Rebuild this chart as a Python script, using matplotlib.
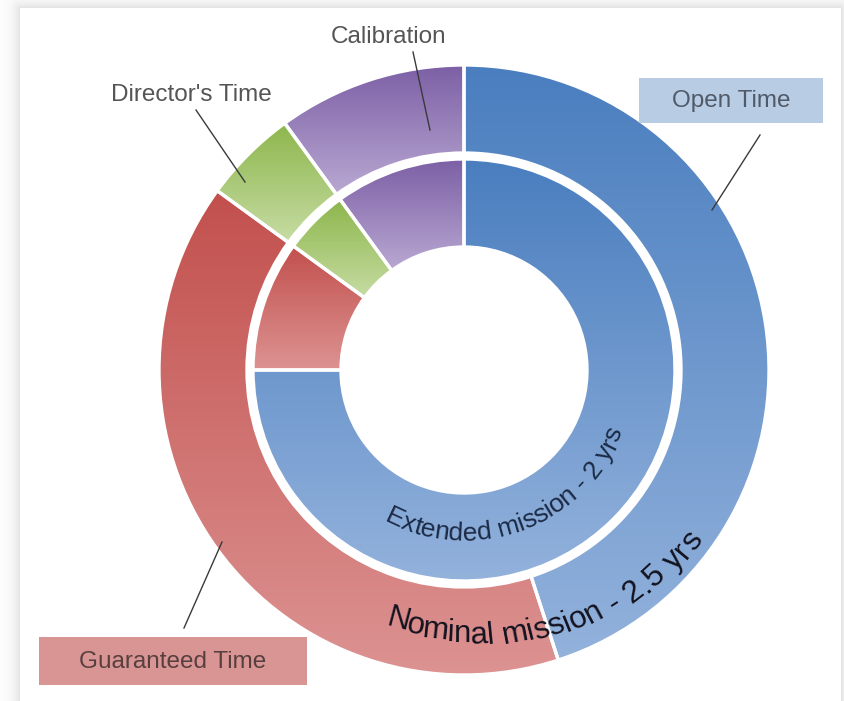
import numpy as np
import matplotlib
matplotlib.use("Agg")
import matplotlib.pyplot as plt
from matplotlib.patches import Rectangle
from matplotlib.font_manager import FontProperties
from matplotlib.textpath import TextToPath
from matplotlib.colors import LinearSegmentedColormap

# ---- data -------------------------------------------------------------
categories = ["Open Time", "Guaranteed Time", "Director's Time", "Calibration"]
nominal_share = [45, 40, 5, 10]    # outer ring: nominal mission (%)
extended_share = [75, 10, 5, 10]   # inner ring: extended mission (%)
ring_titles = ["Nominal mission - 2.5 yrs", "Extended mission - 2 yrs"]

# ---- style ------------------------------------------------------------
top_colors = ["#4a7ebf", "#c2504d", "#8db64c", "#7c5fa5"]
bottom_colors = ["#93b2dc", "#dc9392", "#c6dca3", "#b9a8d2"]
FAMILY = ["Liberation Sans", "DejaVu Sans"]

W, H, DPI = 844, 701, 100
CX, CY, R = 464, 370, 305          # pie centre and outer radius in pixels
RING_W = 88 / R
INNER_R = 211 / R


def P(px, py):
    """pixel position (from top-left) -> data coordinates"""
    return (px - CX) / R, (CY - py) / R


fig = plt.figure(figsize=(W / DPI, H / DPI), dpi=DPI)

# soft grey shadow around the white panel
bg = fig.add_axes([0, 0, 1, 1])
bg.axis("off")
yy, xx = np.mgrid[0:H, 0:W] + 0.5
dx = np.maximum(20 - xx, 0) + np.maximum(xx - 841, 0)
dy = np.maximum(8 - yy, 0)
d = np.hypot(dx, dy)
shade = np.where(d > 0, 1 - 0.11 * np.exp(-d / 7.0), 1.0)
bg.imshow(np.dstack([shade] * 3), extent=[0, W, H, 0], aspect="auto",
          interpolation="bilinear")
bg.set_xlim(0, W)
bg.set_ylim(H, 0)

ax = fig.add_axes([0, 0, 1, 1])
ax.patch.set_alpha(0)

wprops = dict(width=RING_W, edgecolor="white", linewidth=2.4)
outer, _ = ax.pie(nominal_share, radius=1.0, startangle=90, counterclock=False,
                  wedgeprops=wprops)
inner, _ = ax.pie(extended_share, radius=INNER_R, startangle=90,
                  counterclock=False, wedgeprops=wprops)

# vertical gradient inside each wedge
grad = np.linspace(0, 1, 256).reshape(-1, 1)
for wedges in (outer, inner):
    for w, c0, c1 in zip(wedges, top_colors, bottom_colors):
        ext = w.get_path().get_extents()
        cmap = LinearSegmentedColormap.from_list("g", [c0, c1])
        im = ax.imshow(grad, cmap=cmap, origin="upper", aspect="auto",
                       extent=[ext.x0, ext.x1, ext.y0, ext.y1],
                       interpolation="bilinear", zorder=1)
        im.set_clip_path(w)
        w.set_facecolor("none")
        w.set_zorder(2)

# ---- text along an arc ---------------------------------------------------
ttp = TextToPath()


def text_w(s, fp):
    return ttp.get_text_width_height_descent(s, fp, ismath=False)[0] * DPI / 72


def arc_text(s, fp, ang_start, r0, r1, color):
    bar = text_w("|", fp)
    total = text_w(s + "|", fp) - bar
    rmid = 0.5 * (r0 + r1)
    for i, ch in enumerate(s):
        if ch == " ":
            continue
        pre = text_w(s[:i] + "|", fp) - bar
        adv = text_w("|" + ch + "|", fp) - text_w("||", fp)
        pos = pre + adv / 2
        t = pos / total
        r = r0 + (r1 - r0) * t
        th = np.radians(ang_start) + pos / rmid
        x, y = r * np.cos(th) / R, r * np.sin(th) / R
        ax.text(x, y, ch, fontproperties=fp, color=color, ha="center",
                va="baseline", rotation=np.degrees(th) + 90,
                rotation_mode="anchor", zorder=5)


fp_nom = FontProperties(family=FAMILY, size=22.5)
fp_ext = FontProperties(family=FAMILY, size=19)
arc_text(ring_titles[0], fp_nom, -107, 266, 294, "#13131f")
arc_text(ring_titles[1], fp_ext, -118, 171, 170, "#1b2a45")

# ---- callout labels ------------------------------------------------------
lab_kw = dict(family=FAMILY, fontsize=17.5, ha="center", va="center", zorder=6)
line_kw = dict(color="#3a3a3a", lw=1.0, zorder=6)

ax.plot(*zip(P(413, 52), P(430, 130)), **line_kw)
ax.text(*P(389, 37), categories[3], color="#555555", **lab_kw)

ax.plot(*zip(P(196, 110), P(245, 182)), **line_kw)
ax.text(*P(191, 95), categories[2], color="#555555", **lab_kw)

ax.plot(*zip(P(760, 135), P(712, 210)), **line_kw)
x0, y0 = P(639, 123)
x1, y1 = P(823, 78)
ax.add_patch(Rectangle((x0, y0), x1 - x0, y1 - y0, facecolor="#b8cce4",
                       edgecolor="none", zorder=5))
ax.text(*P(731, 101), categories[0], color="#505a68", **lab_kw)

ax.plot(*zip(P(222, 542), P(184, 628)), **line_kw)
x0, y0 = P(39, 685)
x1, y1 = P(307, 637)
ax.add_patch(Rectangle((x0, y0), x1 - x0, y1 - y0, facecolor="#d99594",
                       edgecolor="none", zorder=5))
ax.text(*P(173, 662), categories[1], color="#573f3f", **lab_kw)

ax.set_xlim(-CX / R, (W - CX) / R)
ax.set_ylim(-(H - CY) / R, CY / R)
ax.set_aspect("auto")
ax.axis("off")

fig.savefig("out.png", dpi=DPI)
